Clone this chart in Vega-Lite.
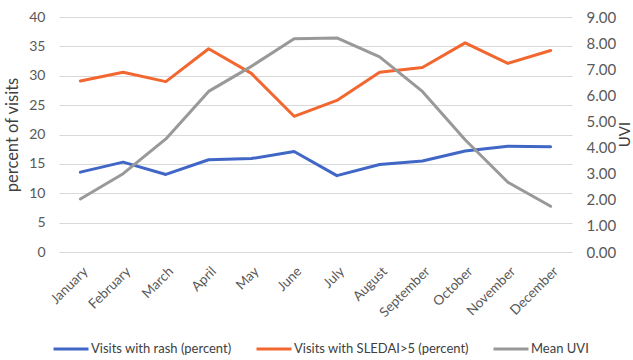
{
  "$schema": "https://vega.github.io/schema/vega-lite/v6.json",
  "width": 513,
  "height": 235,
  "autosize": {"type": "none"},
  "padding": {"left": 59, "top": 17, "right": 61, "bottom": 108},
  "background": "white",
  "config": {
    "font": "Lato",
    "view": {"stroke": null},
    "axis": {"labelColor": "#595959", "titleColor": "#404040", "labelFont": "Lato", "titleFont": "Lato", "titleFontWeight": "normal"},
    "legend": {"labelFont": "Lato", "labelColor": "#404040"}
  },
  "data": {
    "values": [
      {"month": "January", "series": "Visits with rash (percent)", "value": 13.6},
      {"month": "February", "series": "Visits with rash (percent)", "value": 15.3},
      {"month": "March", "series": "Visits with rash (percent)", "value": 13.2},
      {"month": "April", "series": "Visits with rash (percent)", "value": 15.7},
      {"month": "May", "series": "Visits with rash (percent)", "value": 15.9},
      {"month": "June", "series": "Visits with rash (percent)", "value": 17.1},
      {"month": "July", "series": "Visits with rash (percent)", "value": 13.0},
      {"month": "August", "series": "Visits with rash (percent)", "value": 14.9},
      {"month": "September", "series": "Visits with rash (percent)", "value": 15.5},
      {"month": "October", "series": "Visits with rash (percent)", "value": 17.2},
      {"month": "November", "series": "Visits with rash (percent)", "value": 18.0},
      {"month": "December", "series": "Visits with rash (percent)", "value": 17.9},
      {"month": "January", "series": "Visits with SLEDAI>5 (percent)", "value": 29.1},
      {"month": "February", "series": "Visits with SLEDAI>5 (percent)", "value": 30.6},
      {"month": "March", "series": "Visits with SLEDAI>5 (percent)", "value": 29.0},
      {"month": "April", "series": "Visits with SLEDAI>5 (percent)", "value": 34.6},
      {"month": "May", "series": "Visits with SLEDAI>5 (percent)", "value": 30.4},
      {"month": "June", "series": "Visits with SLEDAI>5 (percent)", "value": 23.1},
      {"month": "July", "series": "Visits with SLEDAI>5 (percent)", "value": 25.8},
      {"month": "August", "series": "Visits with SLEDAI>5 (percent)", "value": 30.6},
      {"month": "September", "series": "Visits with SLEDAI>5 (percent)", "value": 31.4},
      {"month": "October", "series": "Visits with SLEDAI>5 (percent)", "value": 35.6},
      {"month": "November", "series": "Visits with SLEDAI>5 (percent)", "value": 32.1},
      {"month": "December", "series": "Visits with SLEDAI>5 (percent)", "value": 34.3},
      {"month": "January", "series": "Mean UVI", "value": 2.03},
      {"month": "February", "series": "Mean UVI", "value": 3.0},
      {"month": "March", "series": "Mean UVI", "value": 4.33},
      {"month": "April", "series": "Mean UVI", "value": 6.15},
      {"month": "May", "series": "Mean UVI", "value": 7.11},
      {"month": "June", "series": "Mean UVI", "value": 8.17},
      {"month": "July", "series": "Mean UVI", "value": 8.2},
      {"month": "August", "series": "Mean UVI", "value": 7.47},
      {"month": "September", "series": "Mean UVI", "value": 6.15},
      {"month": "October", "series": "Mean UVI", "value": 4.3},
      {"month": "November", "series": "Mean UVI", "value": 2.67},
      {"month": "December", "series": "Mean UVI", "value": 1.75}
    ]
  },
  "encoding": {
    "x": {
      "field": "month", "type": "ordinal",
      "sort": ["January","February","March","April","May","June","July","August","September","October","November","December"],
      "scale": {"paddingInner": 0, "paddingOuter": 0},
      "axis": {"title": null, "labelAngle": -45, "labelAlign": "right", "labelBaseline": "top", "labelFontSize": 13.5, "labelPadding": 12, "labelOverlap": false, "domain": false, "ticks": false, "grid": false}
    },
    "color": {
      "field": "series", "type": "nominal",
      "scale": {"domain": ["Visits with rash (percent)", "Visits with SLEDAI>5 (percent)", "Mean UVI"], "range": ["#4066C6", "#F2672F", "#999999"]},
      "legend": {"title": null, "orient": "none", "legendX": -7, "legendY": 313, "direction": "horizontal", "symbolType": "stroke", "symbolStrokeWidth": 3, "symbolSize": 1225, "labelFontSize": 13, "labelLimit": 300, "columnPadding": 18, "symbolOffset": 0, "labelOffset": 1}
    }
  },
  "layer": [
    {
      "transform": [{"filter": "datum.series !== 'Mean UVI'"}],
      "mark": {"type": "line", "strokeWidth": 3, "strokeCap": "round", "strokeJoin": "round"},
      "encoding": {
        "y": {
          "field": "value", "type": "quantitative",
          "scale": {"domain": [0, 40]},
          "axis": {"title": "percent of visits", "orient": "left", "values": [0,5,10,15,20,25,30,35,40], "labelOverlap": false, "labelFontSize": 14, "titleFontSize": 16.5, "titlePadding": 8, "labelPadding": 14, "domain": false, "ticks": false, "grid": true, "gridColor": "#d9d9d9", "gridWidth": 1}
        }
      }
    },
    {
      "transform": [{"filter": "datum.series === 'Mean UVI'"}],
      "mark": {"type": "line", "strokeWidth": 3, "strokeCap": "round", "strokeJoin": "round"},
      "encoding": {
        "y": {
          "field": "value", "type": "quantitative",
          "scale": {"domain": [0, 9]},
          "axis": {"title": "UVI", "orient": "right", "values": [0,1,2,3,4,5,6,7,8,9], "format": ".2f", "labelOverlap": false, "labelFontSize": 15, "titleFontSize": 15, "titleAngle": -90, "titleX": 52, "titleY": 117, "titleBaseline": "middle", "titleAlign": "center", "labelPadding": 14, "domain": false, "ticks": false, "grid": false}
        }
      }
    }
  ],
  "resolve": {"scale": {"y": "independent"}}
}
